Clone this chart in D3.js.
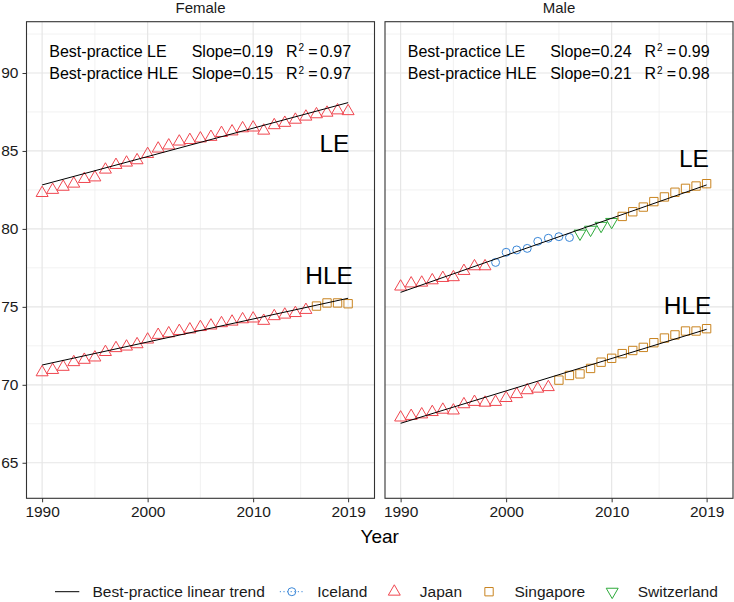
<!DOCTYPE html>
<html>
<head>
<meta charset="utf-8">
<script src="https://cdn.jsdelivr.net/npm/d3@7"></script>
<style>
  html, body { margin: 0; padding: 0; background: #fff; }
  svg { display: block; font-family: "Liberation Sans", Arial, sans-serif; }
</style>
</head>
<body>
<div id="chart"></div>
<script>
// ---- data ----
const years = [1990, 1991, 1992, 1993, 1994, 1995, 1996, 1997, 1998, 1999,
               2000, 2001, 2002, 2003, 2004, 2005, 2006, 2007, 2008, 2009,
               2010, 2011, 2012, 2013, 2014, 2015, 2016, 2017, 2018, 2019];
const sexes = ["Female", "Male"];
const measures = ["LE", "HLE"];
const countries = ["Iceland", "Japan", "Singapore", "Switzerland"];

const femaleLE = [82.3, 82.5, 82.7, 82.9, 83.2, 83.3, 83.8, 84.1, 84.25, 84.4,
                  84.8, 85.15, 85.35, 85.6, 85.7, 85.8, 85.9, 86.15, 86.25, 86.45,
                  86.5, 86.3, 86.65, 86.8, 87.0, 87.2, 87.35, 87.45, 87.6, 87.55];
const femaleHLE = [70.8, 70.95, 71.15, 71.45, 71.6, 71.75, 72.1, 72.35, 72.45, 72.6,
                   72.9, 73.2, 73.3, 73.45, 73.55, 73.7, 73.8, 73.95, 74.05, 74.2,
                   74.25, 74.1, 74.4, 74.5, 74.6, 74.8, 75.05, 75.25, 75.25, 75.2];
const maleLE = [76.3, 76.5, 76.55, 76.7, 76.85, 76.9, 77.3, 77.6, 77.6, 77.85,
                78.5, 78.65, 78.75, 79.2, 79.4, 79.5, 79.45, 79.7, 79.95, 80.2,
                80.45, 80.8, 81.1, 81.4, 81.75, 82.05, 82.35, 82.6, 82.75, 82.9];
const maleHLE = [67.9, 68.0, 68.1, 68.25, 68.4, 68.35, 68.75, 68.9, 68.85, 68.9,
                 69.15, 69.4, 69.65, 69.75, 69.85, 70.3, 70.6, 70.7, 71.05, 71.45,
                 71.7, 72.0, 72.2, 72.4, 72.7, 73.0, 73.2, 73.45, 73.45, 73.6];

// best-practice country, as [country, first year, last year]
const femaleLELeaders = [["Japan", 1990, 2019]];
const femaleHLELeaders = [["Japan", 1990, 2015], ["Singapore", 2016, 2019]];
const maleLELeaders = [["Japan", 1990, 1998], ["Iceland", 1999, 2006],
                       ["Switzerland", 2007, 2010], ["Singapore", 2011, 2019]];
const maleHLELeaders = [["Japan", 1990, 2004], ["Singapore", 2005, 2019]];

// linear trend, value at first and last year
const trendYears = [1990, 2019];
const femaleLETrend = [82.82, 88.10];
const femaleHLETrend = [71.27, 75.55];
const maleLETrend = [75.93, 82.82];
const maleHLETrend = [67.53, 73.56];

const femaleSlopes = [0.19, 0.15];
const femaleR2 = [0.97, 0.97];
const maleSlopes = [0.24, 0.21];
const maleR2 = [0.99, 0.98];

const xTicks = [1990, 2000, 2010, 2019];
const yTicks = [65, 70, 75, 80, 85, 90];

// ---- layout ----
const W = 734, H = 602;
const panelTop = 21.7, panelBottom = 498.3, panelW = 348;
const panelX = [26.5, 385];

const colors = { Iceland: "#3a87d8", Japan: "#f0464f", Singapore: "#c98420", Switzerland: "#2daa3a" };
const symbols = {
    Iceland: d3.symbol(d3.symbolCircle, 50),
    Japan: d3.symbol(d3.symbolTriangle, 62),
    Singapore: d3.symbol(d3.symbolSquare, 70),
    Switzerland: d3.symbol(d3.symbolTriangle, 62)
};

function leaderOf(list, yr) {
    return list.find(l => yr >= l[1] && yr <= l[2])[0];
}

const panelData = [
    { sex: "Female", series: [
        { m: "LE", values: femaleLE, leaders: femaleLELeaders, trend: femaleLETrend, label: [2017.7, 84.95] },
        { m: "HLE", values: femaleHLE, leaders: femaleHLELeaders, trend: femaleHLETrend, label: [2017.2, 76.47] }],
      slopes: femaleSlopes, r2: femaleR2 },
    { sex: "Male", series: [
        { m: "LE", values: maleLE, leaders: maleLELeaders, trend: maleLETrend, label: [2017.8, 83.99] },
        { m: "HLE", values: maleHLE, leaders: maleHLELeaders, trend: maleHLETrend, label: [2017.2, 74.52] }],
      slopes: maleSlopes, r2: maleR2 }
];

const svg = d3.select("#chart").append("svg")
    .attr("width", W)
    .attr("height", H);

const y = d3.scaleLinear().domain([62.72, 93.29]).range([panelBottom, panelTop]);
const xMinor = d3.pairs(xTicks).map(p => (p[0] + p[1]) / 2);
const yMinor = [67.5, 72.5, 77.5, 82.5, 87.5, 92.5];

panelData.forEach((pd, i) => {
    const x0 = panelX[i];
    const x = d3.scaleLinear().domain([1988.52, 2021.5]).range([x0, x0 + panelW]);
    const g = svg.append("g");

    // grid
    g.selectAll(".vminor").data(xMinor).enter().append("line")
        .attr("x1", d => x(d)).attr("x2", d => x(d))
        .attr("y1", panelTop).attr("y2", panelBottom)
        .attr("stroke", "#efefef").attr("stroke-width", 0.8);
    g.selectAll(".hminor").data(yMinor).enter().append("line")
        .attr("x1", x0).attr("x2", x0 + panelW)
        .attr("y1", d => y(d)).attr("y2", d => y(d))
        .attr("stroke", "#efefef").attr("stroke-width", 0.8);
    g.selectAll(".vmajor").data(xTicks).enter().append("line")
        .attr("x1", d => x(d)).attr("x2", d => x(d))
        .attr("y1", panelTop).attr("y2", panelBottom)
        .attr("stroke", "#e6e6e6").attr("stroke-width", 1.2);
    g.selectAll(".hmajor").data(yTicks).enter().append("line")
        .attr("x1", x0).attr("x2", x0 + panelW)
        .attr("y1", d => y(d)).attr("y2", d => y(d))
        .attr("stroke", "#e6e6e6").attr("stroke-width", 1.2);

    // points
    pd.series.forEach(s => {
        const pts = years.map((yr, k) => ({ yr: yr, v: s.values[k], c: leaderOf(s.leaders, yr) }));
        g.selectAll(null).data(pts).enter().append("path")
            .attr("d", d => symbols[d.c]())
            .attr("transform", d => `translate(${x(d.yr)},${y(d.v)})` + (d.c === "Switzerland" ? " rotate(180)" : ""))
            .attr("fill", "none")
            .attr("stroke", d => colors[d.c])
            .attr("stroke-width", 1);

        g.append("line")
            .attr("x1", x(trendYears[0])).attr("y1", y(s.trend[0]))
            .attr("x2", x(trendYears[1])).attr("y2", y(s.trend[1]))
            .attr("stroke", "#000").attr("stroke-width", 1);

        g.append("text")
            .attr("x", x(s.label[0])).attr("y", y(s.label[1]))
            .attr("text-anchor", "middle")
            .attr("font-size", 24.5)
            .attr("fill", "#000")
            .text(s.m);
    });

    // fit annotations
    measures.forEach((m, r) => {
        const by = 56.7 + r * 22.3;
        g.append("text").attr("x", x0 + 22.8).attr("y", by)
            .attr("font-size", 16).text("Best-practice " + m);
        g.append("text").attr("x", x0 + 165.2).attr("y", by)
            .attr("font-size", 16).text("Slope=" + pd.slopes[r].toFixed(2));
        const t = g.append("text").attr("x", x0 + 259.5).attr("y", by).attr("font-size", 16);
        t.append("tspan").text("R");
        t.append("tspan").attr("font-size", 10).attr("dy", -5.5).attr("dx", 1).text("2");
        t.append("tspan").attr("dy", 5.5).attr("dx", 4).text("=");
        t.append("tspan").attr("dx", 2.5).text(pd.r2[r].toFixed(2));
    });

    // panel border
    g.append("rect")
        .attr("x", x0).attr("y", panelTop)
        .attr("width", panelW).attr("height", panelBottom - panelTop)
        .attr("fill", "none").attr("stroke", "#333").attr("stroke-width", 1.1);

    // strip label
    g.append("text")
        .attr("x", x0 + panelW / 2).attr("y", 13)
        .attr("text-anchor", "middle")
        .attr("font-size", 15).attr("fill", "#1a1a1a")
        .text(pd.sex);

    // x axis
    const xa = g.append("g")
        .attr("transform", `translate(0,${panelBottom})`)
        .call(d3.axisBottom(x).tickValues(xTicks).tickFormat(d3.format("d")).tickSize(4).tickPadding(4));
    xa.select(".domain").remove();
    xa.selectAll("line").attr("stroke", "#333");
    xa.selectAll("text").attr("font-size", 15.5).attr("fill", "#1a1a1a").attr("font-family", null);

    if (i === 0) {
        const ya = g.append("g")
            .attr("transform", `translate(${x0},0)`)
            .call(d3.axisLeft(y).tickValues(yTicks).tickSize(4).tickPadding(4));
        ya.select(".domain").remove();
        ya.selectAll("line").attr("stroke", "#333");
        ya.selectAll("text").attr("font-size", 15.5).attr("fill", "#1a1a1a").attr("font-family", null);
    }
});

// axis title
svg.append("text")
    .attr("x", (panelX[0] + panelX[1] + panelW) / 2).attr("y", 543)
    .attr("text-anchor", "middle")
    .attr("font-size", 19).attr("fill", "#000")
    .text("Year");

// legend
const legendItems = ["Best-practice linear trend"].concat(countries);
const ly = 591.7;
let lx = 55;
const lg = svg.append("g");
legendItems.forEach((name, k) => {
    const cx = lx + 12;
    if (k === 0) {
        lg.append("line").attr("x1", lx).attr("x2", lx + 24.3)
            .attr("y1", ly).attr("y2", ly).attr("stroke", "#000").attr("stroke-width", 1);
    } else {
        if (name === "Iceland") {
            lg.append("line").attr("x1", lx).attr("x2", lx + 24.3)
                .attr("y1", ly).attr("y2", ly)
                .attr("stroke", colors[name]).attr("stroke-width", 1)
                .attr("stroke-dasharray", "1.2,2.4");
        }
        lg.append("path")
            .attr("d", symbols[name]())
            .attr("transform", `translate(${cx},${ly})` + (name === "Switzerland" ? " rotate(180)" : ""))
            .attr("fill", "none").attr("stroke", colors[name]).attr("stroke-width", 1);
    }
    const t = lg.append("text")
        .attr("x", cx + 25.5).attr("y", ly + 5.5)
        .attr("font-size", 15.5).attr("fill", "#1a1a1a")
        .text(name);
    lx = cx + 25.5 + t.node().getComputedTextLength() + 15;
});
</script>
</body>
</html>
